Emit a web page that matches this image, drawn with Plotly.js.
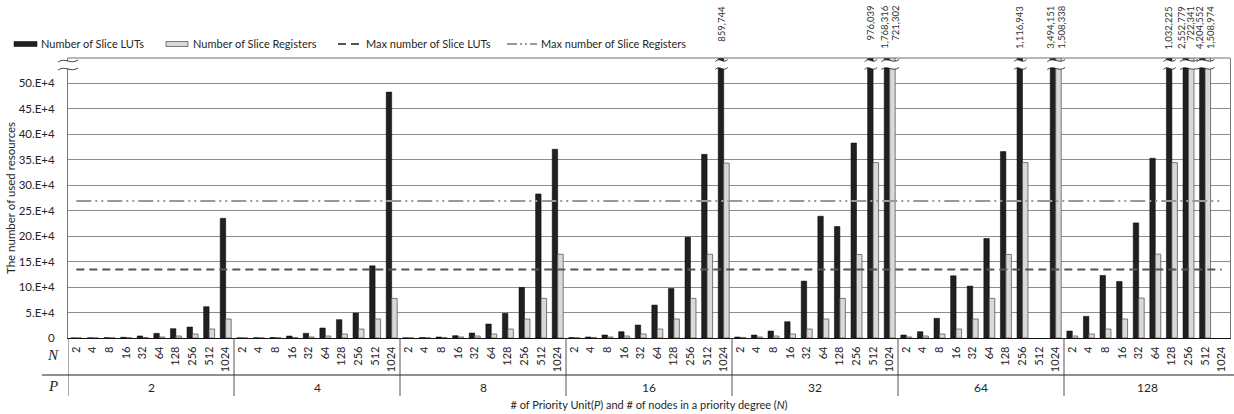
<!DOCTYPE html>
<html><head><meta charset="utf-8">
<script src="https://cdn.plot.ly/plotly-3.0.1.min.js"></script>
<style>html,body{margin:0;padding:0;background:#fff}</style>
</head><body><div id="chart" style="width:1234px;height:414px"></div>
<script>
// ---------------- data ----------------
const P_GROUPS = [2, 4, 8, 16, 32, 64, 128];
const N_VALUES = [2, 4, 8, 16, 32, 64, 128, 256, 512, 1024];

// Number of Slice LUTs, per priority-unit group P (index follows N_VALUES)
const lut_P2   = [200, 350, 700, 1400, 4000, 9200, 18300, 21600, 61500, 235000];
const lut_P4   = [250, 500, 1000, 3900, 9200, 19600, 36000, 49000, 141800, 483000];
const lut_P8   = [400, 900, 2000, 4600, 9800, 27500, 48400, 99400, 283000, 370700];
const lut_P16  = [900, 2000, 5900, 12400, 25500, 64700, 97400, 198000, 360700, 859744];
const lut_P32  = [2000, 5900, 13700, 32000, 111800, 239200, 219000, 383000, 976039, 1768316];
const lut_P64  = [5900, 12400, 38600, 122200, 102000, 195500, 366100, 1116943, null, 3494151];
const lut_P128 = [13700, 42500, 122900, 111100, 226100, 353000, 1032225, 2552779, 4204552, null];

// Number of Slice Registers
const reg_P2   = [60, 120, 250, 500, 1000, 2000, 3900, 7800, 17600, 37300];
const reg_P4   = [120, 250, 500, 1000, 2000, 3900, 7800, 17600, 37300, 77800];
const reg_P8   = [250, 500, 1000, 2000, 3900, 7800, 17600, 37300, 77800, 164500];
const reg_P16  = [500, 1000, 2000, 3900, 7800, 17600, 37300, 77800, 164500, 343500];
const reg_P32  = [1000, 2000, 3900, 7800, 17600, 37300, 77800, 164100, 344500, 721302];
const reg_P64  = [2000, 3900, 7800, 17600, 37300, 77800, 164100, 344500, null, 1508338];
const reg_P128 = [3900, 7800, 17600, 37300, 78400, 164700, 344500, 722341, 1508974, null];

const MAX_SLICE_LUTS = 134600;
const MAX_SLICE_REGS = 269200;

const Y_TICK_VALUES = [0, 50000, 100000, 150000, 200000, 250000, 300000, 350000, 400000, 450000, 500000];
const Y_TICK_LABELS = ['0', '5.E+4', '10.E+4', '15.E+4', '20.E+4', '25.E+4', '30.E+4', '35.E+4', '40.E+4', '45.E+4', '50.E+4'];

const SERIES_NAMES = ['Number of Slice LUTs', 'Number of Slice Registers', 'Max number of Slice LUTs', 'Max number of Slice Registers'];

// ---------------- build ----------------
const LUTS = [lut_P2, lut_P4, lut_P8, lut_P16, lut_P32, lut_P64, lut_P128];
const REGS = [reg_P2, reg_P4, reg_P8, reg_P16, reg_P32, reg_P64, reg_P128];

const ids = [], nText = [], lutY = [], regY = [];
P_GROUPS.forEach((p, g) => {
  N_VALUES.forEach((n, j) => {
    ids.push(p + '|' + n);
    nText.push(String(n));
    lutY.push(LUTS[g][j]);
    regY.push(REGS[g][j]);
  });
});

const W = 1234, H = 414, M = {l: 68, r: 4, t: 58, b: 76};
const PW = W - M.l - M.r, PH = H - M.t - M.b;
const YMAX = 550000;
const nCat = ids.length, catW = PW / nCat;
const BARGAP = 0.34;
const barW = catW * (1 - BARGAP) / 2;
const pxX = x => (x - M.l) / PW;          // pixel -> paper x
const pxY = y => (M.t + PH - y) / PH;     // pixel -> paper y
const catCenterPx = i => M.l + (i + 0.5) * catW;

const FONT = 'Lato, "Open Sans", sans-serif';
const TXT = '#262626';

const traces = [
  {type: 'bar', name: SERIES_NAMES[0], x: ids, y: lutY, showlegend: false,
   marker: {color: '#231f20', line: {color: '#000', width: 0.5}}},
  {type: 'bar', name: SERIES_NAMES[1], x: ids, y: regY, showlegend: false,
   marker: {color: '#d9d9d9', line: {color: '#5a5a5a', width: 0.8}}},
  {type: 'scatter', mode: 'lines', name: SERIES_NAMES[2], showlegend: false,
   x: [ids[0], ids[nCat - 1]], y: [MAX_SLICE_LUTS, MAX_SLICE_LUTS],
   line: {color: '#555', width: 2, dash: '8px,5px'}},
  {type: 'scatter', mode: 'lines', name: SERIES_NAMES[3], showlegend: false,
   x: [ids[0], ids[nCat - 1]], y: [MAX_SLICE_REGS, MAX_SLICE_REGS],
   line: {color: '#999', width: 2, dash: '15px,4px,2px,4px,2px,4px'}}
];

const fmt = v => String(v).replace(/\B(?=(\d{3})+(?!\d))/g, ',');

const shapes = [];
const annotations = [];

// frame top
shapes.push({type: 'line', xref: 'paper', yref: 'paper', x0: 0, x1: 1, y0: 1, y1: 1,
  line: {color: '#6e6e6e', width: 1}});
// group dividers
for (let k = 0; k < P_GROUPS.length; k++) {
  shapes.push({type: 'line', xref: 'x', yref: 'paper', x0: k * N_VALUES.length - 0.5, x1: k * N_VALUES.length - 0.5,
    y0: 0, y1: pxY(396), line: {color: '#555', width: 1}});
}
// row divider between N and P
shapes.push({type: 'line', xref: 'paper', yref: 'paper', x0: pxX(42), x1: pxX(1234), y0: pxY(375), y1: pxY(375),
  line: {color: '#222', width: 1.2}});

// group labels P
P_GROUPS.forEach((p, g) => {
  annotations.push({xref: 'x', yref: 'paper', x: g * N_VALUES.length + (N_VALUES.length - 1) / 2, y: pxY(387),
    text: String(p), showarrow: false, xanchor: 'center', yanchor: 'middle',
    font: {family: FONT, size: 12, color: TXT}});
});
// row headers
annotations.push({xref: 'paper', yref: 'paper', x: pxX(53), y: pxY(355), text: '<i>N</i>', showarrow: false,
  xanchor: 'center', yanchor: 'middle',
  font: {family: '"Liberation Serif", serif', size: 15, color: TXT}});
annotations.push({xref: 'paper', yref: 'paper', x: pxX(53), y: pxY(386), text: '<i>P</i>', showarrow: false,
  xanchor: 'center', yanchor: 'middle',
  font: {family: '"Liberation Serif", serif', size: 15, color: TXT}});

// legend (manual)
const LY = 44;
shapes.push({type: 'rect', xref: 'paper', yref: 'paper', x0: pxX(14), x1: pxX(37), y0: pxY(41.5), y1: pxY(46.5),
  fillcolor: '#231f20', line: {color: '#000', width: 0.5}});
shapes.push({type: 'rect', xref: 'paper', yref: 'paper', x0: pxX(166), x1: pxX(188), y0: pxY(41.5), y1: pxY(46.5),
  fillcolor: '#d9d9d9', line: {color: '#5a5a5a', width: 0.8}});
shapes.push({type: 'line', xref: 'paper', yref: 'paper', x0: pxX(338), x1: pxX(361), y0: pxY(LY), y1: pxY(LY),
  line: {color: '#555', width: 2, dash: '8px,5px'}});
shapes.push({type: 'line', xref: 'paper', yref: 'paper', x0: pxX(507), x1: pxX(537), y0: pxY(LY), y1: pxY(LY),
  line: {color: '#999', width: 2, dash: '10px,3px,2px,3px,2px,3px'}});
[[39, 0], [191, 1], [364, 2], [539, 3]].forEach(([x, s]) => {
  annotations.push({xref: 'paper', yref: 'paper', x: pxX(x), y: pxY(LY), text: SERIES_NAMES[s], showarrow: false,
    xanchor: 'left', yanchor: 'middle', font: {family: FONT, size: 11, color: TXT}});
});

// broken-bar marks and value labels for bars above the axis range
function wavyBand(xl, xr, yt) {
  const w = xr - xl, a = xl + w * 0.4, b = xl + w * 0.6;
  const P = (x, y) => pxX(x).toFixed(5) + ',' + pxY(y).toFixed(5);
  const fill = 'M' + P(xl, yt + 2) + ' C' + P(a, yt - 3) + ' ' + P(b, yt + 5) + ' ' + P(xr, yt) +
               ' L' + P(xr, yt + 8) + ' C' + P(b, yt + 13) + ' ' + P(a, yt + 5) + ' ' + P(xl, yt + 10) + ' Z';
  const top = 'M' + P(xl, yt + 2) + ' C' + P(a, yt - 3) + ' ' + P(b, yt + 5) + ' ' + P(xr, yt);
  const bot = 'M' + P(xl, yt + 10) + ' C' + P(a, yt + 5) + ' ' + P(b, yt + 13) + ' ' + P(xr, yt + 8);
  shapes.push({type: 'path', xref: 'paper', yref: 'paper', path: fill, fillcolor: '#fff', line: {width: 0}});
  shapes.push({type: 'path', xref: 'paper', yref: 'paper', path: top, fillcolor: 'rgba(0,0,0,0)', line: {color: '#111', width: 0.8}});
  shapes.push({type: 'path', xref: 'paper', yref: 'paper', path: bot, fillcolor: 'rgba(0,0,0,0)', line: {color: '#111', width: 0.8}});
}

const labels = [];
for (let i = 0; i < nCat; i++) {
  const lc = lutY[i] != null && lutY[i] > YMAX;
  const rc = regY[i] != null && regY[i] > YMAX;
  if (!lc && !rc) continue;
  const c = catCenterPx(i);
  const xl = c - (lc ? barW : 0) - 3;
  const xr = c + (rc ? barW : 0) + 4;
  wavyBand(xl, xr, 59.5);
  if (lc && rc) {
    labels.push({i, v: lutY[i], px: c - 5.5});
    labels.push({i, v: regY[i], px: c + 5.5});
  } else if (lc) {
    labels.push({i, v: lutY[i], px: c - 3});
  } else {
    labels.push({i, v: regY[i], px: c + 3});
  }
}
for (let k = labels.length - 2; k >= 0; k--) {
  if (labels[k].px > labels[k + 1].px - 9) labels[k].px = labels[k + 1].px - 9;
}
labels.forEach(L => {
  annotations.push({xref: 'x', yref: 'paper', x: L.i, xshift: L.px - catCenterPx(L.i), y: pxY(4),
    text: fmt(L.v), textangle: -90, showarrow: false, xanchor: 'center', yanchor: 'top',
    font: {family: FONT, size: 9.5, color: '#333'}});
});

// y-axis break mark
wavyBand(58, 78, 60);

const layout = {
  width: W, height: H, autosize: false,
  margin: M,
  paper_bgcolor: '#fff', plot_bgcolor: '#fff',
  font: {family: FONT, color: TXT},
  showlegend: false,
  barmode: 'group', bargap: BARGAP, bargroupgap: 0,
  xaxis: {
    type: 'category', range: [-0.5, nCat - 0.5], tickmode: 'array', tickvals: ids, ticktext: nText,
    tickangle: -90, ticks: '', showgrid: false, zeroline: false,
    showline: true, linecolor: '#111', linewidth: 1.2,
    tickfont: {family: FONT, size: 11, color: TXT}, ticklabelstandoff: 3,
    automargin: false, fixedrange: true,
    title: {text: '# of Priority Unit(<i>P</i>) and # of nodes in a priority degree (<i>N</i>)',
            font: {family: FONT, size: 11, color: TXT}, standoff: 30}
  },
  yaxis: {
    range: [0, YMAX], tickmode: 'array', tickvals: Y_TICK_VALUES, ticktext: Y_TICK_LABELS,
    showgrid: true, gridcolor: '#8c8c8c', gridwidth: 1, zeroline: false,
    showline: true, linecolor: '#777', linewidth: 1, mirror: true,
    ticks: '', ticklabelstandoff: 10,
    tickfont: {family: FONT, size: 11.5, color: TXT},
    automargin: false, fixedrange: true,
    title: {text: 'The number of used resources', font: {family: FONT, size: 11.5, color: TXT}, standoff: 0}
  },
  shapes, annotations
};

Plotly.newPlot('chart', traces, layout, {displayModeBar: false, staticPlot: true});
</script>
</body></html>
